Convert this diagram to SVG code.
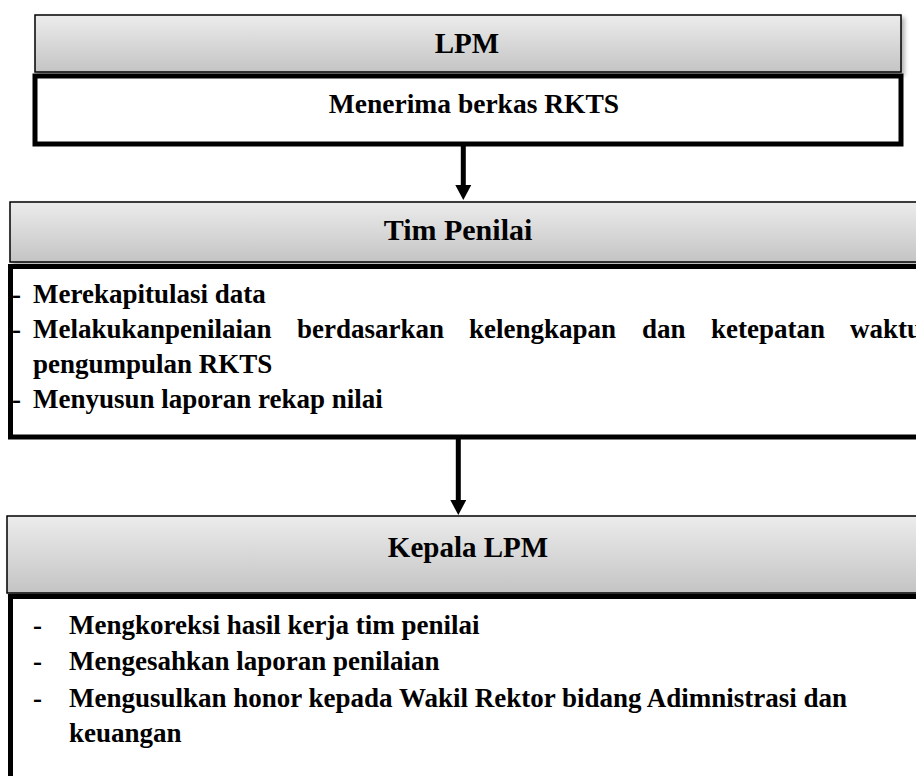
<svg xmlns="http://www.w3.org/2000/svg" width="916" height="776" viewBox="0 0 916 776">
  <defs>
    <linearGradient id="headFill" x1="0" y1="0" x2="0" y2="1">
      <stop offset="0" stop-color="#ececec"/>
      <stop offset="1" stop-color="#c4c4c4"/>
    </linearGradient>
    <filter id="softShadow" x="-5%" y="-20%" width="110%" height="150%">
      <feDropShadow dx="3" dy="3" stdDeviation="2" flood-color="#000" flood-opacity="0.3"/>
    </filter>
    <marker id="arrowHead" markerUnits="userSpaceOnUse" markerWidth="15" markerHeight="16" refX="5" refY="8" orient="auto">
      <path d="M0,0 L15,8 L0,16 Z" fill="#000"/>
    </marker>
    <style>
      .head { fill: url(#headFill); stroke: #000; stroke-width: 1.5; filter: url(#softShadow); }
      .body { fill: #fff; stroke: #000; stroke-width: 5; }
      .title { font-family: "Liberation Serif", "Times New Roman", serif; font-weight: bold; font-size: 29px; fill: #000; text-anchor: middle; }
      .txt { font-family: "Liberation Serif", "Times New Roman", serif; font-weight: bold; font-size: 27px; fill: #000; }
      .link { stroke: #000; stroke-width: 5; fill: none; }
    </style>
  </defs>

  <rect width="916" height="776" fill="#fff"/>

  <!-- LPM -->
  <g id="lpm">
    <rect class="head" x="35" y="15" width="866" height="57"/>
    <text class="title" x="467" y="53">LPM</text>
    <rect class="body" x="35" y="76" width="866" height="68"/>
    <text class="title" x="474" y="113" style="font-size:27.5px">Menerima berkas RKTS</text>
  </g>

  <!-- Tim Penilai -->
  <g id="tim-penilai">
    <rect class="head" x="10" y="202" width="920" height="60"/>
    <text class="title" x="458" y="240" style="font-size:30px">Tim Penilai</text>
    <rect class="body" x="10.5" y="266.5" width="908" height="170.5"/>
    <text class="txt" x="12" y="303">-</text>
    <text class="txt" x="33" y="303">Merekapitulasi data</text>
    <text class="txt" x="12" y="338">-</text>
    <text class="txt" y="338"><tspan x="33">Melakukanpenilaian</tspan><tspan x="297">berdasarkan</tspan><tspan x="469">kelengkapan</tspan><tspan x="642">dan</tspan><tspan x="711">ketepatan</tspan><tspan x="850">waktu</tspan></text>
    <text class="txt" x="33" y="373">pengumpulan RKTS</text>
    <text class="txt" x="12" y="408">-</text>
    <text class="txt" x="33" y="408">Menyusun laporan rekap nilai</text>
  </g>

  <!-- Kepala LPM -->
  <g id="kepala-lpm">
    <rect class="head" x="7" y="516" width="930" height="77"/>
    <text class="title" x="468" y="557">Kepala LPM</text>
    <rect class="body" x="10.5" y="596.5" width="930" height="200"/>
    <text class="txt" x="33" y="634">-</text>
    <text class="txt" x="69" y="634">Mengkoreksi hasil kerja tim penilai</text>
    <text class="txt" x="33" y="670">-</text>
    <text class="txt" x="69" y="670">Mengesahkan laporan penilaian</text>
    <text class="txt" x="33" y="707">-</text>
    <text class="txt" x="69" y="707">Mengusulkan honor kepada Wakil Rektor bidang Adimnistrasi dan</text>
    <text class="txt" x="69" y="742">keuangan</text>
  </g>

  <!-- connectors -->
  <g id="connectors">
    <line class="link" x1="463.3" y1="146" x2="463.3" y2="190" marker-end="url(#arrowHead)"/>
    <line class="link" x1="458.3" y1="437" x2="458.3" y2="505" marker-end="url(#arrowHead)"/>
  </g>
</svg>
